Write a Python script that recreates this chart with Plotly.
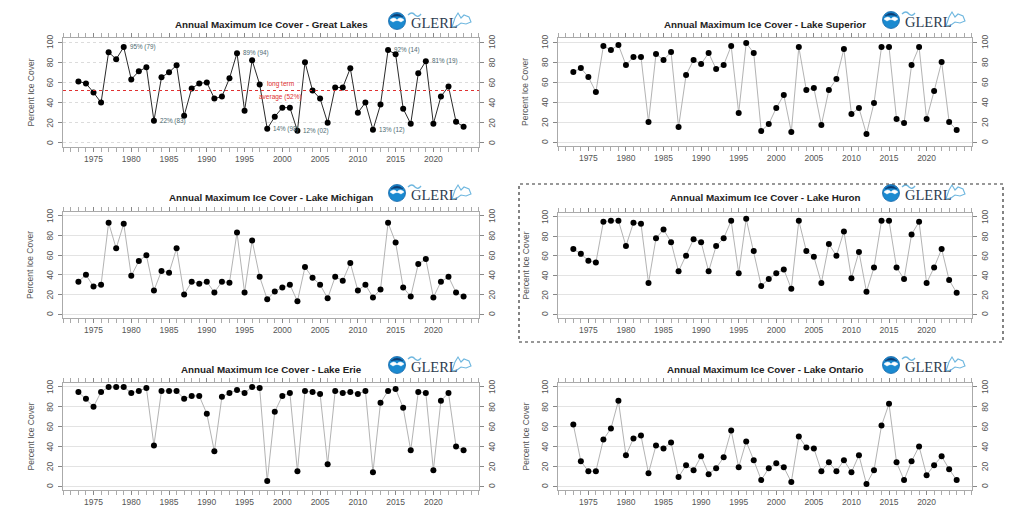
import plotly.graph_objects as go

W, H = 1024, 532

years = list(range(1973, 2025))

great_lakes = [61, 59, 50, 40, 90, 83, 95, 63, 71, 75,
               22, 65, 70, 77, 27, 54, 59, 60, 44, 46,
               64, 89, 32, 82, 58, 14, 26, 35, 35, 12,
               80, 52, 44, 20, 55, 55, 74, 30, 40, 13,
               38, 92, 88, 34, 19, 69, 81, 19, 46, 56,
               21, 16]
superior = [70, 74, 65, 50, 96, 92, 97, 77, 85, 85,
            20, 88, 82, 90, 15, 67, 82, 78, 89, 73,
            77, 96, 29, 99, 89, 11, 18, 34, 47, 10,
            95, 52, 54, 17, 52, 63, 93, 28, 34, 8,
            39, 95, 95, 23, 19, 77, 95, 23, 51, 80,
            20, 12]
michigan = [33, 40, 28, 30, 93, 67, 92, 39, 54, 60,
            24, 44, 42, 67, 20, 33, 31, 33, 22, 33,
            32, 83, 22, 75, 38, 15, 23, 27, 30, 13,
            48, 37, 30, 16, 38, 34, 52, 24, 30, 17,
            25, 93, 73, 27, 18, 51, 56, 17, 33, 38,
            22, 18]
huron = [67, 62, 55, 53, 95, 96, 96, 70, 94, 93,
         32, 78, 87, 74, 44, 60, 77, 74, 44, 70,
         78, 96, 42, 98, 65, 29, 36, 42, 46, 26,
         96, 65, 59, 32, 72, 60, 85, 37, 64, 23,
         48, 96, 96, 48, 36, 82, 95, 32, 48, 67,
         35, 22]
erie = [95, 88, 80, 95, 100, 100, 100, 94, 96, 99,
        41, 96, 96, 96, 88, 91, 91, 73, 35, 90,
        94, 97, 94, 100, 99, 5, 75, 91, 94, 15,
        96, 95, 93, 22, 96, 94, 95, 93, 96, 14,
        84, 96, 98, 79, 36, 95, 94, 16, 86, 94,
        40, 36]
ontario = [62, 25, 15, 15, 47, 58, 86, 31, 48, 51,
           13, 41, 38, 44, 9, 21, 16, 30, 12, 18,
           29, 56, 19, 45, 26, 6, 18, 23, 19, 4,
           50, 39, 38, 15, 24, 15, 26, 14, 31, 2,
           16, 61, 83, 24, 6, 25, 40, 11, 21, 30,
           17, 6]

lake_names = ["Great Lakes", "Lake Superior", "Lake Michigan",
              "Lake Huron", "Lake Erie", "Lake Ontario"]
lake_values = [great_lakes, superior, michigan, huron, erie, ontario]

long_term_average = 52
gl_label_years = [1979, 1983, 1994, 1998, 2002, 2012, 2014, 2019]

x_ticks = [1975, 1980, 1985, 1990, 1995, 2000, 2005, 2010, 2015, 2020]
y_ticks = [0, 20, 40, 60, 80, 100]

# ---------------- layout geometry (pixels) ----------------
boxes = [
    (63, 479, 38, 147),
    (558, 972, 38, 146),
    (63, 479, 212, 318),
    (558, 972, 213, 318),
    (63, 479, 383, 490),
    (558, 972, 383, 490),
]
title_y = [24, 24, 197, 197, 369, 369]
logo_c = [(397, 21), (891, 20), (397, 193), (891, 193), (397, 365), (891, 365)]

XR = [1970.96, 2026.04]
YR = [-4, 104]


def px(x):
    return x / W


def py(y):
    return 1 - y / H


def P(x, y):
    return f"{px(x):.5f},{py(y):.5f}"


fig = go.Figure()
layout = dict(template="none", width=W, height=H,
              margin=dict(l=0, r=0, t=0, b=0, pad=0),
              paper_bgcolor="white", plot_bgcolor="white",
              showlegend=False, font=dict(family="Liberation Sans, Arial", color="#555"))
annotations = []
shapes = []

tick_font = dict(family="Liberation Sans, Arial", size=8.5, color="#555")

for i, (name, vals) in enumerate(zip(lake_names, lake_values)):
    n = i + 1
    x0, x1, y0, y1 = boxes[i]
    xa = f"xaxis{n}"
    ya = f"yaxis{n}"
    ya2 = f"yaxis{n + 6}"
    is_gl = (i == 0)
    layout[xa] = dict(domain=[px(x0), px(x1)], anchor=f"y{n}", range=XR,
                      automargin=False,
                      tickvals=x_ticks, ticks="outside", ticklen=4,
                      tickcolor="#888", showline=True, linecolor="#aaa",
                      linewidth=1, mirror="allticks", showgrid=False,
                      zeroline=False, tickfont=tick_font,
                      minor=dict(dtick=1, tick0=1973, ticks="outside",
                                 ticklen=2, tickcolor="#aaa", showgrid=False))
    layout[ya] = dict(domain=[py(y1), py(y0)], anchor=f"x{n}", range=YR,
                      automargin=False,
                      tickmode="array", tickvals=y_ticks,
                      showticklabels=False,
                      ticks="outside",
                      ticklen=4, tickcolor="#888", showline=True,
                      linecolor="#aaa", linewidth=1, mirror=True,
                      showgrid=True,
                      gridcolor="#dcdcdc" if is_gl else "#e3e3e3",
                      griddash="dot" if is_gl else "solid",
                      gridwidth=1, zeroline=False, tickfont=tick_font)
    layout[ya2] = dict(overlaying=f"y{n}", anchor=f"x{n}", side="right",
                       automargin=False,
                       range=YR, tickmode="array", tickvals=y_ticks,
                       showticklabels=False,
                       ticks="outside", ticklen=4, tickcolor="#888",
                       showgrid=False, zeroline=False, showline=False,
                       tickfont=tick_font)

    # rotated y tick labels (R style, parallel to the axis) on both sides
    for t in y_ticks:
        for xpos in (x0 - 13, x1 + 13):
            annotations.append(dict(text=str(t), textangle=-90,
                                    x=px(xpos), y=t, xref="paper", yref=f"y{n}",
                                    showarrow=False, xanchor="center",
                                    yanchor="middle", font=tick_font))

    line_color = "#2a2a2a" if is_gl else "#b3b3b3"
    fig.add_trace(go.Scatter(x=years, y=vals, xaxis=f"x{n}", yaxis=f"y{n}",
                             mode="lines+markers",
                             line=dict(color=line_color, width=1),
                             marker=dict(color="black", size=6),
                             hoverinfo="skip"))
    fig.add_trace(go.Scatter(x=years, y=vals, xaxis=f"x{n}", yaxis=f"y{n + 6}",
                             mode="markers", marker=dict(opacity=0),
                             hoverinfo="skip"))

    # title
    annotations.append(dict(text=f"<b>Annual Maximum Ice Cover - {name}</b>",
                            x=px((x0 + x1) / 2), y=py(title_y[i]),
                            xref="paper", yref="paper", showarrow=False,
                            xanchor="center", yanchor="middle",
                            font=dict(family="Liberation Sans, Arial", size=9.8,
                                      color="#222")))
    # y axis title
    annotations.append(dict(text="Percent Ice Cover", textangle=-90,
                            x=px(x0 - 33), y=py((y0 + y1) / 2),
                            xref="paper", yref="paper", showarrow=False,
                            xanchor="center", yanchor="middle",
                            font=dict(family="Liberation Sans, Arial", size=8.5,
                                      color="#555")))

    # logo
    cx, cy = logo_c[i]
    r = 8.5
    shapes.append(dict(type="circle", xref="paper", yref="paper",
                       x0=px(cx - r), x1=px(cx + r), y0=py(cy + r), y1=py(cy - r),
                       fillcolor="#1b8ad0", line=dict(color="#1466a8", width=0.8)))
    shapes.append(dict(type="path", xref="paper", yref="paper",
                       path=f"M {P(cx-7, cy-1)} Q {P(cx-3, cy-5)} {P(cx, cy-1)} "
                            f"Q {P(cx+3, cy-5)} {P(cx+7, cy-1)} L {P(cx+4, cy+1)} "
                            f"Q {P(cx, cy-2)} {P(cx-4, cy+1)} Z",
                       fillcolor="white", line=dict(color="white", width=0.5)))
    shapes.append(dict(type="path", xref="paper", yref="paper",
                       path=f"M {P(cx-6, cy-4)} Q {P(cx, cy-10)} {P(cx+6, cy-4)} "
                            f"Q {P(cx, cy-6)} {P(cx-6, cy-4)} Z",
                       fillcolor="#0d3d73", line=dict(color="#0d3d73", width=0.5)))
    annotations.append(dict(text="GLERL", x=px(cx + 12), y=py(cy + 2),
                            xref="paper", yref="paper", showarrow=False,
                            xanchor="left", yanchor="middle",
                            font=dict(family="Liberation Serif, Times New Roman",
                                      size=14.5, color="#2c3b4e")))
    shapes.append(dict(type="path", xref="paper", yref="paper",
                       path=f"M {P(cx+11, cy-6)} Q {P(cx+15, cy-10)} {P(cx+18, cy-6)} "
                            f"Q {P(cx+21, cy-3)} {P(cx+24, cy-7)}",
                       line=dict(color="#6fb7df", width=1.3)))
    shapes.append(dict(type="path", xref="paper", yref="paper",
                       path=f"M {P(cx+55, cy+6)} L {P(cx+58, cy-3)} L {P(cx+61, cy-8)} "
                            f"L {P(cx+64, cy-3)} L {P(cx+67, cy-6)} L {P(cx+72, cy-4)} "
                            f"L {P(cx+74, cy+1)} L {P(cx+69, cy+3)} L {P(cx+64, cy+2)} "
                            f"L {P(cx+60, cy+5)} Z",
                       line=dict(color="#6fb7df", width=1.1)))

# long-term average line and labels (Great Lakes panel)
shapes.append(dict(type="line", xref="x", yref="y", x0=XR[0], x1=XR[1],
                   y0=long_term_average, y1=long_term_average,
                   line=dict(color="#e03030", width=1.1, dash="dot")))
annotations.append(dict(text="long term", x=1999.7, y=58.5, xref="x", yref="y",
                        showarrow=False, xanchor="center", yanchor="middle",
                        font=dict(size=6.5, color="#e03030")))
annotations.append(dict(text=f"average ({long_term_average}%)", x=1999.7, y=45.5,
                        xref="x", yref="y", showarrow=False,
                        xanchor="center", yanchor="middle",
                        font=dict(size=6.5, color="#e03030")))
for yr in gl_label_years:
    v = great_lakes[years.index(yr)]
    annotations.append(dict(text=f"{v}% ({str(yr)[2:]})",
                            x=yr, y=v, xref="x", yref="y", showarrow=False,
                            xanchor="left", yanchor="middle", xshift=4,
                            font=dict(size=6.3, color="#4d6a72")))

# dashed frame around Lake Huron panel
shapes.append(dict(type="rect", xref="paper", yref="paper",
                   x0=px(519), x1=px(1003), y0=py(342), y1=py(184),
                   line=dict(color="#333", width=1.2, dash="dot")))

layout["annotations"] = annotations
layout["shapes"] = shapes
fig.update_layout(**layout)
fig.write_html("out.html", config={"displayModeBar": False},
               post_script="document.body.style.margin='0';"
                           "document.body.style.overflow='hidden';")
